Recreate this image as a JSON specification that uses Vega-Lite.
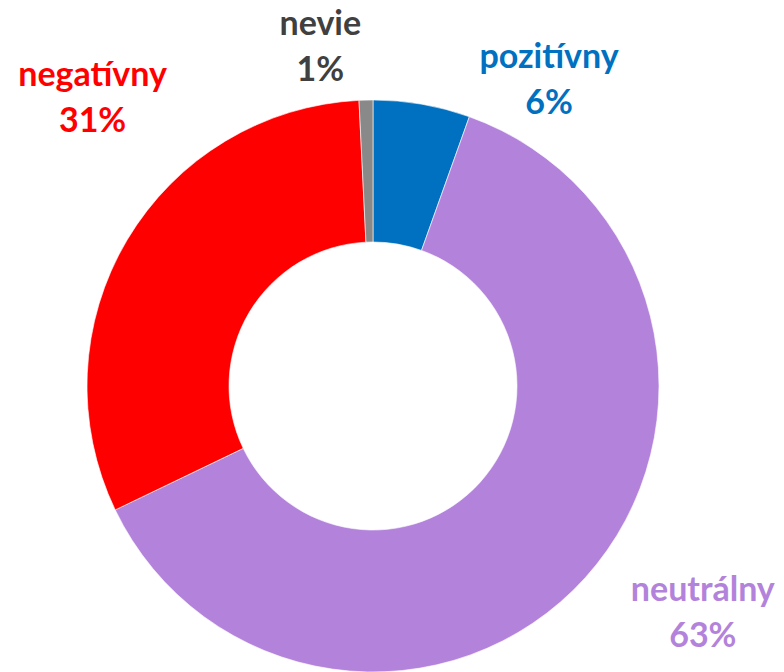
{
  "$schema": "https://vega.github.io/schema/vega-lite/v6.json",
  "width": 746,
  "height": 572,
  "autosize": {"type": "none"},
  "padding": {"left": 0, "top": 100, "right": 38, "bottom": 0},
  "background": "white",
  "view": {"stroke": null},
  "data": {
    "values": [
      {"idx": 1, "cat": "pozitívny", "value": 5.47, "label": "pozitívny\n6%"},
      {"idx": 2, "cat": "neutrálny", "value": 62.4, "label": "neutrálny\n63%"},
      {"idx": 3, "cat": "negatívny", "value": 31.35, "label": "negatívny\n31%"},
      {"idx": 4, "cat": "nevie", "value": 0.78, "label": "nevie\n1%"}
    ]
  },
  "transform": [
    {"stack": "value", "groupby": [], "sort": [{"field": "idx", "order": "ascending"}], "as": ["v0", "v1"]}
  ],
  "layer": [
    {
      "mark": {"type": "arc", "outerRadius": 286, "innerRadius": 144, "stroke": "white", "strokeWidth": 0.6},
      "encoding": {
        "theta": {"field": "v0", "type": "quantitative", "scale": {"domain": [0, 100]}},
        "theta2": {"field": "v1"},
        "color": {
          "field": "cat",
          "type": "nominal",
          "scale": {"domain": ["pozitívny", "neutrálny", "negatívny", "nevie"], "range": ["#0070C0", "#B383DB", "#FF0000", "#898989"]},
          "legend": null
        }
      }
    },
    {
      "transform": [{"filter": "datum.cat === 'pozitívny'"}],
      "mark": {"type": "text", "radius": 320, "dx": 176, "dy": -8, "font": "Lato", "fontWeight": "bold", "fontSize": 34, "lineHeight": 46, "lineBreak": "\n", "align": "center", "baseline": "middle", "color": "#0070C0"},
      "encoding": {"theta": {"field": "v0", "type": "quantitative"}, "text": {"field": "label"}}
    },
    {
      "transform": [{"filter": "datum.cat === 'neutrálny'"}],
      "mark": {"type": "text", "radius": 320, "dx": 222, "dy": 506, "font": "Lato", "fontWeight": "bold", "fontSize": 34, "lineHeight": 46, "lineBreak": "\n", "align": "center", "baseline": "middle", "color": "#B383DB"},
      "encoding": {"theta": {"field": "v0", "type": "quantitative"}, "text": {"field": "label"}}
    },
    {
      "transform": [{"filter": "datum.cat === 'negatívny'"}],
      "mark": {"type": "text", "radius": 320, "dx": 8, "dy": -449, "font": "Lato", "fontWeight": "bold", "fontSize": 34, "lineHeight": 46, "lineBreak": "\n", "align": "center", "baseline": "middle", "color": "#FF0000"},
      "encoding": {"theta": {"field": "v0", "type": "quantitative"}, "text": {"field": "label"}}
    },
    {
      "transform": [{"filter": "datum.cat === 'nevie'"}],
      "mark": {"type": "text", "radius": 320, "dx": -37, "dy": -41, "font": "Lato", "fontWeight": "bold", "fontSize": 34, "lineHeight": 46, "lineBreak": "\n", "align": "center", "baseline": "middle", "color": "#404040"},
      "encoding": {"theta": {"field": "v0", "type": "quantitative"}, "text": {"field": "label"}}
    }
  ]
}
